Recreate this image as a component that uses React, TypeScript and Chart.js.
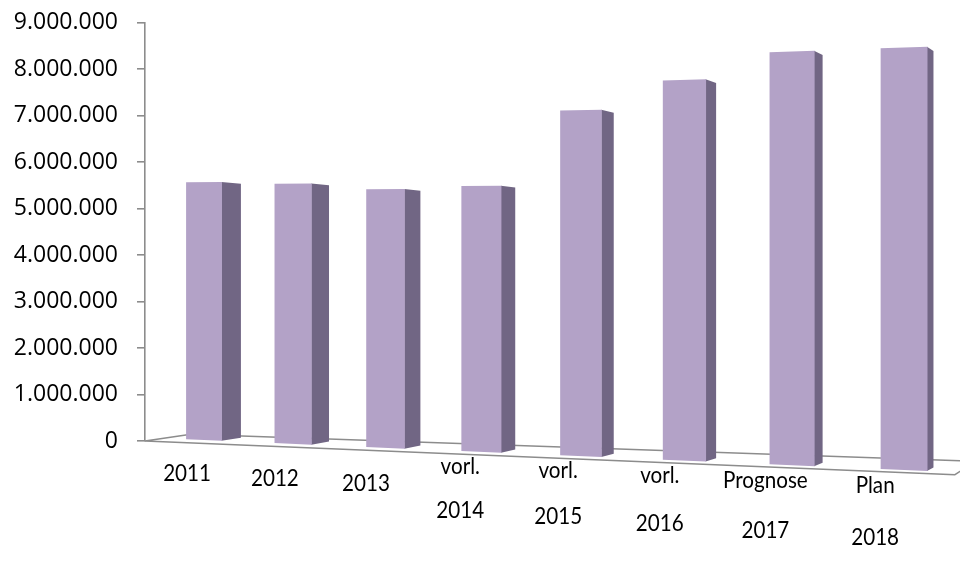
import React, { useEffect, useRef } from "react";
import { Chart, registerables } from "chart.js";

Chart.register(...registerables);

// ---------- data ----------
const categories: string[][] = [
  ["2011"],
  ["2012"],
  ["2013"],
  ["vorl.", "2014"],
  ["vorl.", "2015"],
  ["vorl.", "2016"],
  ["Prognose", "2017"],
  ["Plan", "2018"],
];
const values: number[] = [5500000, 5450000, 5320000, 5370000, 6850000, 7390000, 7870000, 7880000];
const yMin = 0;
const yMax = 9000000;
const yStep = 1000000;

// ---------- style ----------
const FRONT_COLOR = "#B3A2C7";
const SIDE_COLOR = "#716684";
const LINE_COLOR = "#8C8C8C";
const TEXT_COLOR = "#000000";
const Y_FONT = '"Open Sans", "DejaVu Sans", sans-serif';
const X_FONT = 'Lato, "Open Sans", sans-serif';
const X_FONT_SIZE = 24;
const X_FONT_STRETCH = 0.86;
const CANVAS_W = 960;
const CANVAS_H = 579;
const CANVAS_SHIFT = -10; // compensates the axis label padding Chart.js adds above the plot

// ---------- 3D view (camera) ----------
const HORIZON = 161; // horizon height above the zero line
const VPR_DX = 1107; // depth vanishing point, right of the value axis
const PERSP = 0.1416; // depth change across the floor
const SPAN_LEFT = 15.6;
const SPAN_RIGHT = 1.7;
const FLOOR_FRONT_SLOPE = 0.0416;
const FLOOR_BACK_SLOPE = 0.0343;
const FLOOR_DEPTH = 0.0415;
const FLOOR_RIGHT_INSET = 5;
const BAR_LIFT = 3.5;
const BAR_SLOPE = 0.0429;
const BAR_DEPTH = 0.0184;
const LABEL_SHIFT = 16.3;
const LABEL_DROP = 30;
const LABEL_LINE = 39;

type Pt = { x: number; y: number };
const towards = (p: Pt, v: Pt, t: number): Pt => ({ x: p.x + (v.x - p.x) * t, y: p.y + (v.y - p.y) * t });

function fmt(v: number): string {
  return String(Math.round(v)).replace(/\B(?=(\d{3})+(?!\d))/g, ".");
}

function quad(ctx: CanvasRenderingContext2D, pts: Pt[], color: string) {
  ctx.beginPath();
  ctx.moveTo(pts[0].x, pts[0].y);
  for (let i = 1; i < pts.length; i++) ctx.lineTo(pts[i].x, pts[i].y);
  ctx.closePath();
  ctx.fillStyle = color;
  ctx.fill();
}

const view3d = {
  id: "view3d",
  beforeDatasetsDraw(chart: any) {
    const ctx: CanvasRenderingContext2D = chart.ctx;
    const ca = chart.chartArea;
    const y0 = chart.scales.y.getPixelForValue(0);
    const L = ca.left;
    const vpr = { x: L + VPR_DX, y: y0 - HORIZON };
    const FL = { x: L, y: y0 };
    const frx = ca.right - FLOOR_RIGHT_INSET;
    const FR = { x: frx, y: y0 + FLOOR_FRONT_SLOPE * (frx - L) };
    const BL = towards(FL, vpr, FLOOR_DEPTH);
    const dx = vpr.x - FR.x;
    const dy = vpr.y - FR.y;
    const t = (BL.y + FLOOR_BACK_SLOPE * (FR.x - BL.x) - FR.y) / (dy - FLOOR_BACK_SLOPE * dx);
    const BR = { x: FR.x + t * dx, y: FR.y + t * dy };
    ctx.save();
    ctx.strokeStyle = LINE_COLOR;
    ctx.lineWidth = 1.6;
    ctx.lineJoin = "round";
    ctx.beginPath();
    ctx.moveTo(BR.x, BR.y);
    ctx.lineTo(BL.x, BL.y);
    ctx.lineTo(FL.x, FL.y);
    ctx.lineTo(FR.x, FR.y);
    ctx.lineTo(BR.x, BR.y);
    ctx.stroke();
    ctx.restore();
  },
  afterDatasetsDraw(chart: any) {
    const ctx: CanvasRenderingContext2D = chart.ctx;
    const ca = chart.chartArea;
    const y0 = chart.scales.y.getPixelForValue(0);
    const L = ca.left;
    const vpr = { x: L + VPR_DX, y: y0 - HORIZON };
    const W = ca.right - ca.left;
    const pL = ca.left + SPAN_LEFT;
    const pR = ca.right + SPAN_RIGHT;
    const sOf = (u: number) => (u - ca.left) / W;
    const proj = (s: number) => pL + ((pR - pL) * s * (1 - PERSP)) / (1 - PERSP * s);
    const spAxis = (ca.left - pL) / (pR - pL);
    const sAxis = spAxis / (1 - PERSP + PERSP * spAxis);
    const kOf = (s: number) => (1 - PERSP * sAxis) / (1 - PERSP * s);
    const kw = (s: number) => 1 / ((1 - PERSP * s) * (1 - PERSP * s));
    const bottomAt = (x: number) => y0 - BAR_LIFT + BAR_SLOPE * (x - L);
    const meta = chart.getDatasetMeta(0);
    const labels: string[][] = chart.data.labels;

    ctx.save();
    meta.data.forEach((el: any, i: number) => {
      const p = el.getProps(["x", "y", "base", "width"], true);
      const h = p.base - p.y;
      const sl = sOf(p.x - p.width / 2);
      const sr = sOf(p.x + p.width / 2);
      const xl = proj(sl);
      const xr = proj(sr);
      const bl = bottomAt(xl);
      const br = bottomAt(xr);
      const tl = bl - h * kOf(sl);
      const tr = br - h * kOf(sr);
      // side face
      const trb = towards({ x: xr, y: tr }, vpr, BAR_DEPTH);
      const brb = towards({ x: xr, y: br }, vpr, BAR_DEPTH);
      quad(ctx, [{ x: xr - 0.5, y: tr }, trb, brb, { x: xr - 0.5, y: br }], SIDE_COLOR);
      // front face
      quad(ctx, [{ x: xl, y: tl }, { x: xr, y: tr }, { x: xr, y: br }, { x: xl, y: bl }], FRONT_COLOR);

      // category label in front of the floor
      const sc = sOf(p.x);
      const cx = proj(sc);
      const f = kw(sc);
      const lx = cx - LABEL_SHIFT * f * f;
      const frontY = y0 + FLOOR_FRONT_SLOPE * (lx - L);
      const anchor = frontY + LABEL_DROP * f;
      const gap = LABEL_LINE * f;
      const lines = labels[i];
      ctx.fillStyle = TEXT_COLOR;
      ctx.font = `${X_FONT_SIZE}px ${X_FONT}`;
      ctx.textAlign = "center";
      ctx.textBaseline = "middle";
      for (let j = 0; j < lines.length; j++) {
        const ly = anchor + (j - (lines.length - 1) / 2) * gap;
        ctx.save();
        ctx.translate(lx, ly);
        ctx.scale(X_FONT_STRETCH, 1);
        ctx.fillText(lines[j], 0, 0);
        ctx.restore();
      }
    });
    ctx.restore();
  },
};

export default function App() {
  const ref = useRef<HTMLCanvasElement>(null);
  useEffect(() => {
    const canvas = ref.current;
    if (!canvas) return;
    const chart = new Chart(canvas, {
      type: "bar",
      data: {
        labels: categories,
        datasets: [
          {
            data: values,
            backgroundColor: "rgba(0,0,0,0)",
            borderWidth: 0,
            barPercentage: 0.41,
            categoryPercentage: 1,
          },
        ],
      },
      options: {
        animation: false,
        responsive: false,
        devicePixelRatio: 1,
        layout: { padding: { top: 0, bottom: 128, left: 0, right: 0 } },
        plugins: { legend: { display: false }, tooltip: { enabled: false } },
        scales: {
          x: { type: "category", display: false, offset: true },
          y: {
            type: "linear",
            min: yMin,
            max: yMax,
            afterFit: (s: any) => {
              s.width = 145;
            },
            ticks: {
              stepSize: yStep,
              padding: 19,
              color: TEXT_COLOR,
              font: { family: Y_FONT, size: 23 },
              callback: (v: any) => fmt(Number(v)),
            },
            grid: {
              display: true,
              drawOnChartArea: false,
              drawTicks: true,
              tickLength: 8,
              color: LINE_COLOR,
              lineWidth: 1.6,
            },
            border: { display: true, color: LINE_COLOR, width: 1.6 },
          },
        },
      },
      plugins: [view3d],
    } as any);
    return () => chart.destroy();
  }, []);
  return (
    <div
      style={{
        position: "fixed",
        left: 0,
        top: 0,
        width: 960,
        height: 569,
        overflow: "hidden",
        background: "#fff",
      }}
    >
      <canvas
        ref={ref}
        width={CANVAS_W}
        height={CANVAS_H}
        style={{ display: "block", position: "absolute", left: 0, top: CANVAS_SHIFT, width: CANVAS_W, height: CANVAS_H }}
      />
    </div>
  );
}
